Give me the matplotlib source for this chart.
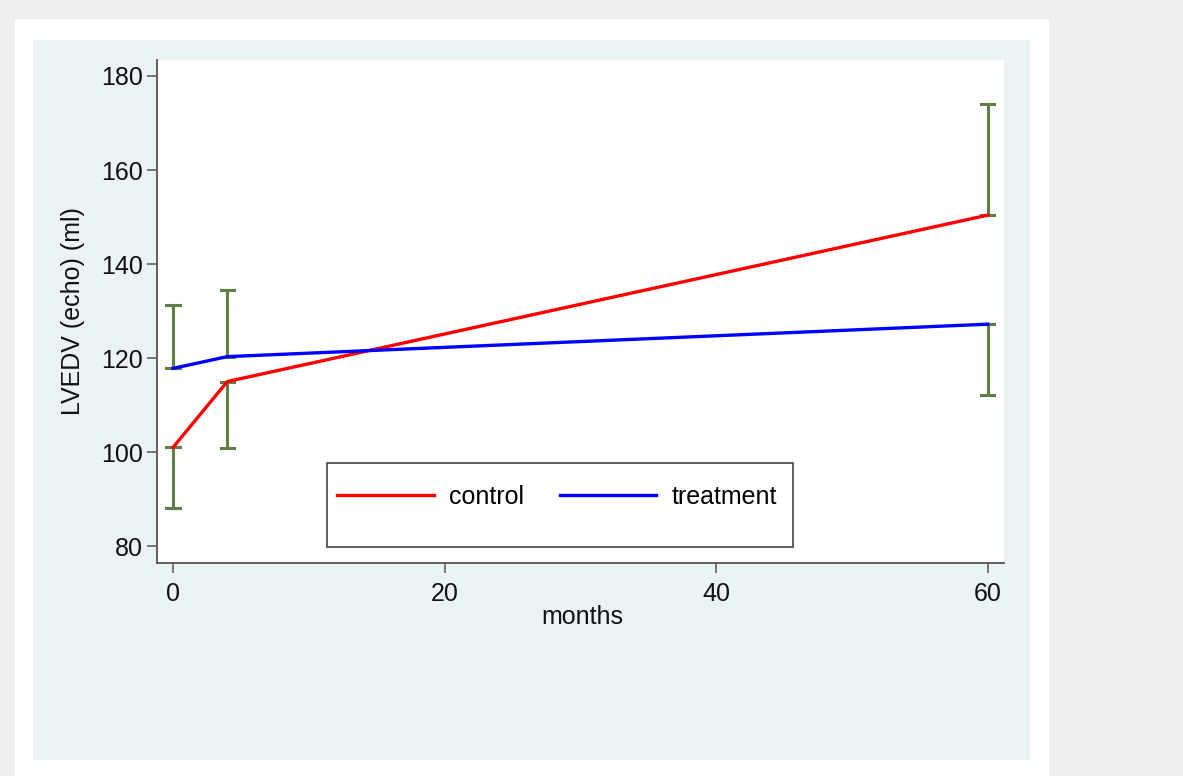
import matplotlib.pyplot as plt
from matplotlib.patches import Rectangle
from matplotlib.lines import Line2D

plt.rcParams['font.family'] = ['Liberation Sans', 'DejaVu Sans']

# datos
months = [0, 4, 60]
control = [101.0, 115.0, 150.4]
treatment = [117.8, 120.3, 127.2]
# barras de error de un solo lado
control_lo = [88.1, 100.9, None]
control_hi = [None, None, 174.0]
treat_hi = [131.3, 134.5, None]
treat_lo = [None, None, 112.1]

W, H = 1183, 776
fig = plt.figure(figsize=(W / 100, H / 100), dpi=100, facecolor='#eeeeee')


def fx(x):
    return x / W


def fy(y):
    return 1 - y / H


# paneles de fondo
fig.patches.append(Rectangle((fx(15), fy(776)), fx(1049 - 15), (776 - 19) / H,
                             transform=fig.transFigure, facecolor='white',
                             edgecolor='none', zorder=-3))
fig.patches.append(Rectangle((fx(33), fy(760)), fx(1030 - 33), (760 - 40) / H,
                             transform=fig.transFigure, facecolor='#eaf2f3',
                             edgecolor='none', zorder=-2))

ax = fig.add_axes([fx(157), fy(563), fx(1004 - 157), (563 - 60) / H])
ax.set_facecolor('white')

ecol = '#5e7f45'
for x, c, t, clo, chi, thi, tlo in zip(months, control, treatment,
                                       control_lo, control_hi, treat_hi, treat_lo):
    for base, end in [(c, clo), (c, chi), (t, thi), (t, tlo)]:
        if end is None:
            continue
        ax.plot([x, x], [base, end], color=ecol, lw=2.2, zorder=2)
        ax.plot([x - 0.5, x + 0.5], [end, end], color=ecol, lw=2.2, zorder=2)
        ax.plot([x - 0.5, x + 0.5], [base, base], color=ecol, lw=2.2, zorder=2)

ax.plot(months, control, color='#ff0000', lw=2.4, zorder=3)
ax.plot(months, treatment, color='#0000ff', lw=2.4, zorder=3)

ax.set_xlim(-1.18, 61.2)
ax.set_ylim(76.4, 183.4)
ax.set_xticks([0, 20, 40, 60])
ax.set_yticks([80, 100, 120, 140, 160, 180])

for s in ['top', 'right']:
    ax.spines[s].set_visible(False)
for s in ['left', 'bottom']:
    ax.spines[s].set_color('#555555')
    ax.spines[s].set_linewidth(1.3)
ax.tick_params(axis='both', length=7, width=1.1, color='#555555',
               labelsize=18, labelcolor='#111111')
ax.tick_params(axis='y', pad=3)
ax.tick_params(axis='x', pad=7)

fig.text(fx(582), fy(617), 'months', ha='center', va='center',
         fontsize=18, color='#111111')
fig.text(fx(73), fy(311), 'LVEDV (echo) (ml)', ha='center', va='center',
         rotation=90, fontsize=18, color='#111111')

# leyenda
fig.patches.append(Rectangle((fx(327), fy(547)), fx(793 - 327), (547 - 463) / H,
                             transform=fig.transFigure, facecolor='white',
                             edgecolor='#444444', lw=1.2, zorder=5))
handles = [Line2D([], [], color='#ff0000', lw=2.4),
           Line2D([], [], color='#0000ff', lw=2.4)]
leg = fig.legend(handles, ['control', 'treatment'], ncol=2, frameon=False,
                 loc='center', bbox_to_anchor=(fx(557), fy(497)),
                 fontsize=18, handlelength=3.85, handletextpad=0.6,
                 columnspacing=1.45, borderpad=0)
leg.set_zorder(6)

fig.savefig('out.png', dpi=100, facecolor=fig.get_facecolor())
